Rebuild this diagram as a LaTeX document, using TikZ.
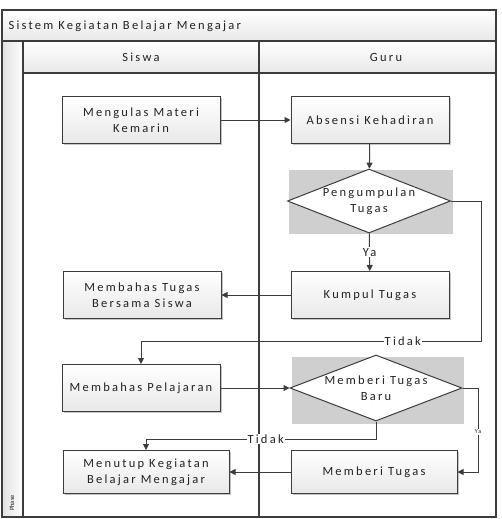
\documentclass[tikz,border=0pt]{standalone}
\usepackage{fontspec}
\setmainfont{Carlito}[LetterSpace=18]
\newfontfamily\phasefont{Carlito}
\usetikzlibrary{arrows.meta,shapes.geometric,shadows}
\definecolor{lineclr}{HTML}{3C3C3C}
\definecolor{txtclr}{HTML}{222222}
\tikzset{
  lane/.style={draw=lineclr, line width=1.3pt},
  actbox/.style={draw=lineclr, line width=1pt, top color=white, bottom color=black!9,
    drop shadow={shadow xshift=1.5pt, shadow yshift=-1.5pt, fill=black!45, opacity=.5},
    align=center, text=txtclr, font=\fontsize{12.5}{16}\selectfont,
    minimum width=158pt, minimum height=47pt, inner sep=0pt},
  decision/.style={diamond, draw=lineclr, line width=1pt, fill=white, align=center,
    text=txtclr, font=\fontsize{12.5}{16}\selectfont, aspect=2.5, inner sep=0pt,
    minimum width=163pt, minimum height=64pt},
  graybg/.style={fill=black!19, minimum width=164pt, minimum height=64pt, inner sep=0pt},
  flow/.style={draw=lineclr, line width=1pt, -{Triangle[length=6pt,width=6pt]}},
  lbl/.style={fill=white, inner sep=1pt, text=txtclr, font=\fontsize{12.5}{14}\selectfont},
  tinylbl/.style={fill=white, inner sep=1pt, text=txtclr, font=\fontsize{6}{7}\selectfont},
  lanetitle/.style={text=txtclr, font=\fontsize{12.5}{14}\selectfont}
}
\begin{document}
\begin{tikzpicture}[x=1pt,y=-1pt]
  \useasboundingbox (0,0) rectangle (501,519);
  % Pool and lanes
  \shade[top color=white, bottom color=black!9] (2,10) rectangle (496,41);
  \shade[left color=black!12, right color=white] (2,41) rectangle (23,517);
  \shade[top color=white, bottom color=black!9] (23,41) rectangle (496,73);
  \draw[lane] (2,10) rectangle (496,517);
  \draw[lane] (2,41) -- (496,41);
  \draw[lane] (23,41) -- (23,517);
  \draw[lane] (23,73) -- (496,73);
  \draw[lane] (259,41) -- (259,517);
  \node[lanetitle, anchor=west] (pool) at (5,26) {Sistem Kegiatan Belajar Mengajar};
  \node[lanetitle] (siswa) at (141,57) {Siswa};
  \node[lanetitle] (guru) at (386,57) {Guru};
  \node[rotate=90, text=txtclr, font=\phasefont\fontsize{6.5}{7}\selectfont] (phase) at (12,503) {Phase};
  % Activities
  \node[actbox] (ulas) at (141,120) {Mengulas Materi\\Kemarin};
  \node[actbox] (absen) at (370,120) {Absensi Kehadiran};
  \node[graybg] (kumpulbg) at (371,202) {};
  \node[decision] (kumpulq) at (369,201) {Pengumpulan\\Tugas};
  \node[actbox] (kumpul) at (370,295) {Kumpul Tugas};
  \node[actbox] (bahastugas) at (142,295) {Membahas Tugas\\Bersama Siswa};
  \node[actbox] (bahas) at (141,388) {Membahas Pelajaran};
  \node[graybg, minimum width=172pt, minimum height=67pt] (barubg) at (378,390) {};
  \node[decision, minimum width=172pt, minimum height=66pt] (baruq) at (376,388) {Memberi Tugas\\Baru};
  \node[actbox, minimum width=166pt, minimum height=43pt] (tutup) at (146,472) {Menutup Kegiatan\\Belajar Mengajar};
  \node[actbox, minimum width=166pt, minimum height=43pt] (beri) at (374,472) {Memberi Tugas};
  % Bend points
  \coordinate (tidakA) at (481,341);
  \coordinate (tidakB) at (141,341);
  \coordinate (tidakC) at (146,439);
  \coordinate (yaA) at (478,472);
  % Flows
  \draw[flow] (ulas) -- (absen);
  \draw[flow] (absen) -- (kumpulq);
  \draw[flow] (kumpulq) -- node[lbl] (ya1) {Ya} (kumpul);
  \draw[flow] (kumpul) -- (bahastugas);
  \draw[flow] (kumpulq.east) -| (tidakA) -- node[lbl, pos=0.23] (tidak1) {Tidak} (tidakB) -- (bahas);
  \draw[flow] (bahas) -- (baruq);
  \draw[flow] (baruq.south) |- node[lbl, pos=0.74] (tidak2) {Tidak} (tidakC) -- (tutup);
  \draw[flow] (baruq.east) -| node[tinylbl, pos=0.76] (ya2) {Ya} (yaA) -- (beri.east);
  \draw[flow] (beri) -- (tutup);
\end{tikzpicture}
\end{document}
